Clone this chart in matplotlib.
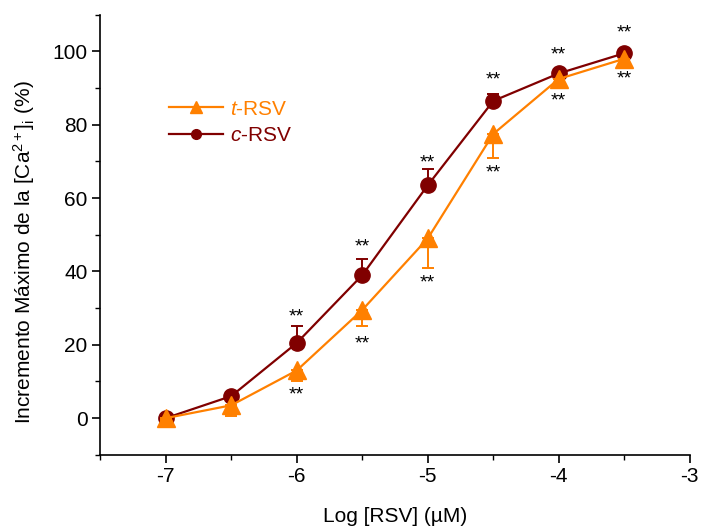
import matplotlib
matplotlib.use("Agg")
import matplotlib.pyplot as plt
from matplotlib.lines import Line2D
import numpy as np

plt.rcParams.update({
    "font.family": ["Liberation Sans", "DejaVu Sans"],
    "mathtext.fontset": "custom",
    "mathtext.rm": "Liberation Sans",
    "mathtext.it": "Liberation Sans:italic",
    "font.size": 14,
})

log_conc = [-7.0, -6.5, -6.0, -5.5, -5.0, -4.5, -4.0, -3.5]

t_rsv = [0.0, 3.5, 13.0, 29.5, 49.0, 77.5, 92.5, 98.0]
t_err = [0.5, 3.0, 3.0, 4.5, 8.0, 6.5, 2.0, 1.5]   # drawn downward

c_rsv = [0.0, 6.0, 20.5, 39.0, 63.5, 86.5, 94.0, 99.5]
c_err = [0.5, 1.0, 4.5, 4.5, 4.5, 2.0, 1.0, 1.0]   # drawn upward

# "**" marks: above c-RSV and below t-RSV
star_x = [-6.0, -5.5, -5.0, -4.5, -4.0, -3.5]
star_c_y = [27.7, 46.7, 69.5, 92.3, 98.9, 105.0]
star_t_y = [6.3, 20.3, 36.8, 66.8, 86.5, 92.6]

ORANGE = "#FF8000"
DARKRED = "#800000"

fig = plt.figure(figsize=(7.01, 5.27), dpi=100)
ax = fig.add_axes([0.143, 0.137, 0.841, 0.835])

zeros = np.zeros(len(log_conc))
ax.errorbar(log_conc, c_rsv, yerr=[zeros, c_err], color=DARKRED, marker="o",
            markersize=11, lw=1.6, capsize=4, elinewidth=1.4, capthick=1.4,
            zorder=3)
ax.errorbar(log_conc, t_rsv, yerr=[t_err, zeros], color=ORANGE, marker="^",
            markersize=13, lw=1.6, capsize=4, elinewidth=1.4, capthick=1.4,
            zorder=4)

for x, y in zip(star_x, star_c_y):
    ax.text(x, y, "**", ha="center", va="center", fontsize=14)
for x, y in zip(star_x, star_t_y):
    ax.text(x, y, "**", ha="center", va="center", fontsize=14)

ax.set_xlim(-7.5, -3)
ax.set_ylim(-10, 110)
ax.set_xticks([-7, -6, -5, -4, -3])
ax.set_xticklabels(["-7", "-6", "-5", "-4", "-3"])
ax.set_xticks(np.arange(-7.5, -2.9, 0.5), minor=True)
ax.set_yticks([0, 20, 40, 60, 80, 100])
ax.set_yticks(np.arange(-10, 111, 10), minor=True)

for side in ("top", "right"):
    ax.spines[side].set_visible(False)
for side in ("left", "bottom"):
    ax.spines[side].set_linewidth(1.2)
ax.tick_params(which="major", direction="out", length=6, width=1.2,
               labelsize=15, pad=3)
ax.tick_params(which="minor", direction="out", length=3.5, width=1.0)

ax.set_xlabel("Log [RSV] (µM)", fontsize=15, labelpad=15)
ax.set_ylabel(r"Incremento Máximo de la [Ca$^{2+}$]$_\mathregular{i}$ (%)",
              fontsize=15)
ax.yaxis.set_label_coords(-0.108, 0.46)

handles = [
    Line2D([], [], color=ORANGE, marker="^", markersize=9, lw=1.6),
    Line2D([], [], color=DARKRED, marker="o", markersize=7, lw=1.6),
]
labels = [r"$\it{t}$-RSV", r"$\it{c}$-RSV"]
leg = ax.legend(handles, labels, loc="upper left",
                bbox_to_anchor=(0.085, 0.85), frameon=False, fontsize=15,
                handlelength=2.6, labelspacing=0.35, handletextpad=0.3)
for txt, col in zip(leg.get_texts(), [ORANGE, DARKRED]):
    txt.set_color(col)

fig.savefig("out.png", dpi=100)
